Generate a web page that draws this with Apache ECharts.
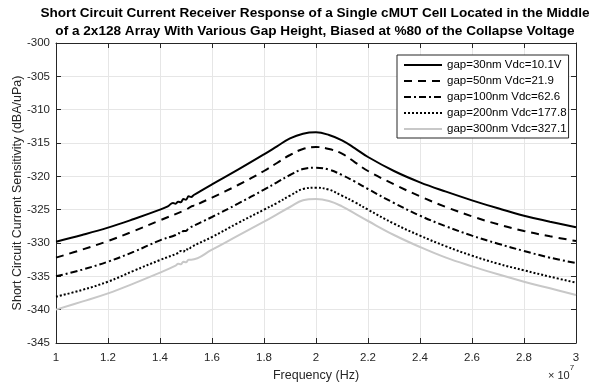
<!DOCTYPE html>
<html>
<head>
<meta charset="utf-8">
<script src="https://cdn.jsdelivr.net/npm/echarts@6/dist/echarts.min.js"></script>
<style>html,body{margin:0;padding:0;background:#fff;}#c{width:602px;height:382px;}</style>
</head>
<body>
<div id="c"></div>
<script>
// Frequency in units of 1e7 Hz; sensitivity in dBA/uPa
const freq30 = [1.0,1.1,1.2,1.3,1.4,1.43,1.45,1.46,1.47,1.48,1.49,1.50,1.51,1.52,1.53,1.6,1.7,1.8,1.85,1.9,1.95,2.0,2.05,2.1,2.15,2.2,2.3,2.4,2.5,2.6,2.7,2.8,2.9,3.0];
const sens30 = [-329.8,-328.8,-327.7,-326.4,-325.0,-324.5,-324.0,-324.1,-323.8,-323.9,-323.4,-323.5,-323.0,-323.1,-322.8,-321.2,-319.0,-316.7,-315.5,-314.3,-313.6,-313.4,-313.8,-314.6,-315.8,-317.1,-319.2,-320.9,-322.3,-323.6,-324.8,-325.9,-326.8,-327.65];

const freq50 = [1.0,1.1,1.2,1.3,1.4,1.5,1.53,1.54,1.55,1.6,1.7,1.8,1.85,1.9,1.95,2.0,2.05,2.1,2.15,2.2,2.3,2.4,2.5,2.6,2.7,2.8,2.9,3.0];
const sens50 = [-332.2,-331.0,-329.7,-328.2,-326.6,-325.0,-324.4,-324.5,-324.1,-323.2,-321.3,-319.2,-318.0,-316.8,-315.9,-315.6,-315.9,-316.6,-317.9,-319.2,-321.2,-323.0,-324.6,-326.0,-327.2,-328.2,-329.0,-329.7];

const freq100 = [1.0,1.1,1.2,1.3,1.4,1.46,1.47,1.48,1.49,1.50,1.51,1.6,1.7,1.8,1.85,1.9,1.95,2.0,2.05,2.1,2.15,2.2,2.3,2.4,2.5,2.6,2.7,2.8,2.9,3.0];
const sens100 = [-335.0,-334.0,-332.8,-331.3,-329.6,-328.8,-328.5,-328.6,-328.2,-328.2,-327.8,-326.1,-324.1,-322.0,-320.9,-319.8,-318.9,-318.7,-319.0,-319.8,-320.8,-321.9,-324.0,-325.9,-327.5,-328.9,-330.1,-331.2,-332.2,-333.0];

const freq200 = [1.0,1.1,1.2,1.3,1.4,1.47,1.48,1.49,1.50,1.51,1.52,1.6,1.7,1.8,1.85,1.9,1.95,2.0,2.05,2.1,2.15,2.2,2.3,2.4,2.5,2.6,2.7,2.8,2.9,3.0];
const sens200 = [-338.05,-337.05,-335.8,-334.15,-332.55,-331.5,-331.2,-331.3,-330.9,-331.0,-330.6,-329.1,-327.0,-325.0,-324.0,-322.9,-321.9,-321.7,-322.0,-322.9,-323.9,-325.0,-327.1,-328.9,-330.5,-331.9,-333.1,-334.1,-335.05,-335.95];

const freq300 = [1.0,1.1,1.2,1.3,1.4,1.46,1.47,1.48,1.49,1.50,1.51,1.52,1.6,1.7,1.8,1.85,1.9,1.95,2.0,2.05,2.1,2.15,2.2,2.3,2.4,2.5,2.6,2.7,2.8,2.9,3.0];
const sens300 = [-340.0,-338.8,-337.55,-336.05,-334.45,-333.4,-333.1,-333.2,-332.8,-332.9,-332.5,-332.5,-331.0,-328.9,-326.8,-325.7,-324.6,-323.6,-323.4,-323.7,-324.5,-325.6,-326.7,-328.8,-330.6,-332.2,-333.5,-334.7,-335.8,-336.8,-337.8];

const seriesNames = ['gap=30nm Vdc=10.1V','gap=50nm Vdc=21.9','gap=100nm Vdc=62.6','gap=200nm Vdc=177.8','gap=300nm Vdc=327.1'];
const titleLines = ['Short Circuit Current Receiver Response of a Single cMUT Cell Located in the Middle','of a 2x128 Array With Various Gap Height, Biased at %80 of the Collapse Voltage'];

const zip = (xs, ys) => xs.map((x, i) => [x, ys[i]]);
const FONT = '"Liberation Sans", Arial, sans-serif';
const styles = [
  {color:'#000000', type:'solid'},
  {color:'#000000', type:[8,6]},
  {color:'#000000', type:[7,3,2,3]},
  {color:'#000000', type:[2,2]},
  {color:'#c8c8c8', type:'solid'}
];
const datasets = [zip(freq30,sens30), zip(freq50,sens50), zip(freq100,sens100), zip(freq200,sens200), zip(freq300,sens300)];

const chart = echarts.init(document.getElementById('c'), null, {renderer:'canvas'});
const tickFmt = v => String(Number(v.toFixed(1)));
chart.setOption({
  animation: false,
  backgroundColor: '#ffffff',
  title: {
    text: titleLines.join('\n'),
    left: 315, top: 4, padding: 0, textAlign: 'center',
    textStyle: {fontFamily: FONT, fontWeight: 'bold', fontSize: 13.6, color: '#000', lineHeight: 18}
  },
  grid: {left: 56, right: 26, top: 43, bottom: 39, outerBoundsMode: 'none', containLabel: false},
  legend: {
    left: 397, top: 55, orient: 'vertical',
    itemWidth: 38, itemHeight: 12, itemGap: 4,
    padding: [4, 2, 3, 6],
    borderColor: '#262626', borderWidth: 1, backgroundColor: '#fff',
    itemStyle: {opacity: 0},
    textStyle: {fontFamily: FONT, fontSize: 11.5, color: '#000'},
    data: seriesNames
  },
  xAxis: [{
    type: 'value', min: 1, max: 3, interval: 0.2,
    name: 'Frequency (Hz)', nameLocation: 'middle', nameGap: 23,
    nameTextStyle: {fontFamily: FONT, fontSize: 12.5, color: '#262626'},
    axisLine: {onZero: false, lineStyle: {color: '#262626', width: 1}},
    axisTick: {inside: true, length: 5, lineStyle: {color: '#262626'}},
    axisLabel: {fontFamily: FONT, fontSize: 11.5, color: '#262626', margin: 9, formatter: tickFmt},
    splitLine: {show: true, lineStyle: {color: '#e6e6e6', width: 1}}
  }, {
    type: 'value', min: 1, max: 3, interval: 0.2, position: 'top',
    axisLine: {onZero: false, lineStyle: {color: '#262626', width: 1}},
    axisTick: {inside: true, length: 5, lineStyle: {color: '#262626'}},
    axisLabel: {show: false}, splitLine: {show: false}
  }],
  yAxis: [{
    type: 'value', min: -345, max: -300, interval: 5,
    name: 'Short Circuit Current Sensitivity (dBA/uPa)', nameLocation: 'middle', nameGap: 32,
    nameMoveOverlap: false,
    nameTextStyle: {fontFamily: FONT, fontSize: 12.5, color: '#262626'},
    axisLine: {show: true, onZero: false, lineStyle: {color: '#262626', width: 1}},
    axisTick: {show: true, inside: true, length: 5, lineStyle: {color: '#262626'}},
    axisLabel: {fontFamily: FONT, fontSize: 11.5, color: '#262626', margin: 6},
    splitLine: {show: true, lineStyle: {color: '#e6e6e6', width: 1}}
  }, {
    type: 'value', min: -345, max: -300, interval: 5, position: 'right',
    axisLine: {show: true, onZero: false, lineStyle: {color: '#262626', width: 1}},
    axisTick: {show: true, inside: true, length: 5, lineStyle: {color: '#262626'}},
    axisLabel: {show: false}, splitLine: {show: false}
  }],
  graphic: [{
    type: 'text', left: 548, top: 364,
    style: {
      text: '{a|× 10}{b|7}',
      rich: {
        a: {fontFamily: FONT, fontSize: 11, fill: '#262626', padding: [6,0,0,0]},
        b: {fontFamily: FONT, fontSize: 8, fill: '#262626', verticalAlign: 'top'}
      }
    }
  }],
  series: datasets.map((d, i) => ({
    name: seriesNames[i], type: 'line', data: d,
    xAxisIndex: 0, yAxisIndex: 0,
    showSymbol: false, symbol: 'none', smooth: 0.4,
    z: 10 - i,
    lineStyle: {color: styles[i].color, type: styles[i].type, width: 2, cap: 'butt'},
    itemStyle: {color: styles[i].color}
  }))
});
</script>
</body>
</html>
